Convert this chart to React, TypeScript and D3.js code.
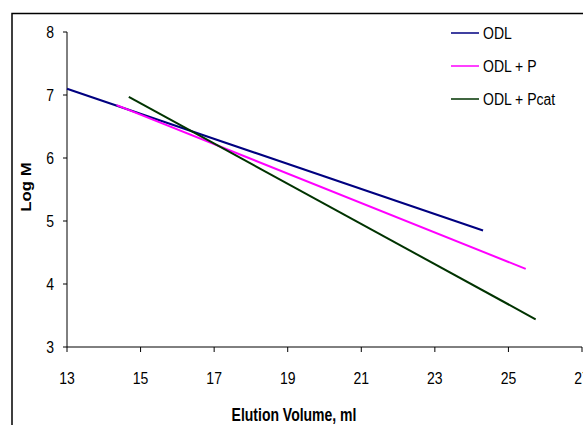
import React from "react";
import * as d3 from "d3";

const seriesNames = ["ODL", "ODL + P", "ODL + Pcat"];
const seriesColors = ["#000080", "#FF00FF", "#003300"];
const odl: [number, number][] = [[13.0, 7.1], [24.31, 4.85]];
const odlP: [number, number][] = [[14.35, 6.84], [25.47, 4.24]];
const odlPcat: [number, number][] = [[14.68, 6.97], [25.74, 3.44]];
const seriesData = [odl, odlP, odlPcat];
const xTicks = [13, 15, 17, 19, 21, 23, 25, 27];
const yTicks = [3, 4, 5, 6, 7, 8];

const W = 583, H = 425;
const FONT = "'Liberation Sans', Arial, sans-serif";

export default function App() {
  const x = d3.scaleLinear().domain([13, 27]).range([67, 582]);
  const y = d3.scaleLinear().domain([3, 8]).range([347, 32]);
  const line = d3.line<[number, number]>().x(d => x(d[0])).y(d => y(d[1]));
  const sy = 1.17;
  return (
    <svg width={W} height={H} style={{ position: "absolute", left: 0, top: 0, display: "block" }}>
      <rect x={0} y={0} width={W} height={H} fill="#fff" />
      <rect x={12} y={13.5} width={600} height={450} fill="none" stroke="#000" strokeWidth={1.5} />
      {/* axes */}
      <line x1={x(13)} x2={x(13)} y1={y(8)} y2={y(3)} stroke="#000" strokeWidth={1} />
      <line x1={x(13)} x2={x(27)} y1={y(3)} y2={y(3)} stroke="#000" strokeWidth={1} />
      {yTicks.map(t => (
        <g key={"y" + t}>
          <line x1={x(13) - 4} x2={x(13)} y1={y(t)} y2={y(t)} stroke="#000" />
          <text transform={`translate(54,${y(t) + 5.8}) scale(1,${sy})`} textAnchor="end" fontFamily={FONT} fontSize={14}>{t}</text>
        </g>
      ))}
      {xTicks.map(t => (
        <g key={"x" + t}>
          <line x1={x(t)} x2={x(t)} y1={y(3)} y2={y(3) + 5} stroke="#000" />
          <text transform={`translate(${x(t)},384) scale(1,${sy})`} textAnchor="middle" fontFamily={FONT} fontSize={14}>{t}</text>
        </g>
      ))}
      {/* series */}
      {seriesData.map((d, i) => (
        <path key={i} d={line(d) || ""} fill="none" stroke={seriesColors[i]} strokeWidth={2} />
      ))}
      {/* axis titles */}
      <text transform={`translate(294,421) scale(1,1.3)`} textAnchor="middle" fontFamily={FONT} fontSize={14} fontWeight="bold">Elution Volume, ml</text>
      <text transform={`translate(31,187) rotate(-90) scale(1.2,1)`} textAnchor="middle" fontFamily={FONT} fontSize={14} fontWeight="bold">Log M</text>
      {/* legend */}
      {seriesNames.map((n, i) => {
        const ly = 33 + i * 33;
        return (
          <g key={n}>
            <line x1={451} x2={479} y1={ly} y2={ly} stroke={seriesColors[i]} strokeWidth={1.5} />
            <text transform={`translate(483,${ly + 5.8}) scale(1,${sy})`} fontFamily={FONT} fontSize={14}>{n}</text>
          </g>
        );
      })}
    </svg>
  );
}
